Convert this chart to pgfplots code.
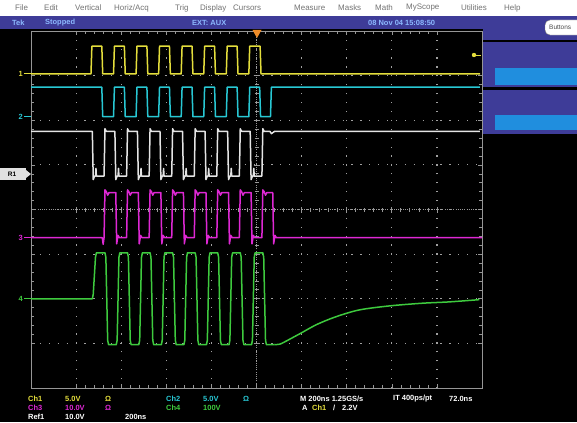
\documentclass[border=0pt]{standalone}
\usepackage{pgfplots}
\pgfplotsset{compat=1.18}
\usepackage{fontspec}
\setmainfont{Liberation Sans}
\definecolor{scYellow}{RGB}{228,222,60}
\definecolor{scCyan}{RGB}{40,200,212}
\definecolor{scWhite}{RGB}{228,228,228}
\definecolor{scMag}{RGB}{222,40,212}
\definecolor{scGreen}{RGB}{62,202,62}
\definecolor{barBlue}{RGB}{62,60,152}
\definecolor{panelBlue}{RGB}{32,142,222}
\definecolor{gridGray}{RGB}{150,150,150}
\definecolor{menuText}{RGB}{115,115,115}
\definecolor{statusText}{RGB}{140,185,255}
\definecolor{trigOrange}{RGB}{240,140,40}
\newcommand{\tf}{\fontsize{7.5}{8}\selectfont}
\newcommand{\mf}{\fontsize{8}{9}\selectfont}
\begin{document}
\begin{tikzpicture}[x=1bp,y=1bp]
% background
\fill[black] (0,0) rectangle (577,422);
\fill[white] (0,406) rectangle (577,422);
\fill[barBlue] (0,393) rectangle (577,406);
\fill[barBlue] (483,288) rectangle (577,406);
\fill[black] (483,380) rectangle (577,382);
\fill[black] (483,332) rectangle (577,335);
\fill[panelBlue] (495,337) rectangle (577,354);
\fill[panelBlue] (495,292) rectangle (577,307);
\coordinate (A) at (31,34);
% menu
\begin{scope}[every node/.style={anchor=west, text=menuText, font=\mf, inner sep=0pt}]
\node at (15,414) {File};
\node at (44,414) {Edit};
\node at (75,414) {Vertical};
\node at (114,414) {Horiz/Acq};
\node at (175,414) {Trig};
\node at (200,414) {Display};
\node at (233,414) {Cursors};
\node at (294,414) {Measure};
\node at (338,414) {Masks};
\node at (375,414) {Math};
\node at (406,414) {MyScope};
\node at (461,414) {Utilities};
\node at (504,414) {Help};
\end{scope}
% status bar
\begin{scope}[every node/.style={anchor=west, text=statusText, font=\tf\bfseries, inner sep=0pt}]
\node at (12,399.5) {Tek};
\node at (45,399.5) {Stopped};
\node at (192,399.5) {EXT: AUX};
\node at (368,399.5) {08 Nov 04 15:08:50};
\end{scope}
\draw[fill=white, draw=gray, rounded corners=5bp] (545,387) rectangle (585,402);
\node[anchor=west, font=\fontsize{6.5}{7}\selectfont, text=black!70, inner sep=0pt] at (549,394.5) {Buttons};

% center lines overlay
\begin{axis}[at={(A)}, anchor=south west, scale only axis, width=451bp, height=357bp,
  xmin=-5, xmax=5, ymin=-4, ymax=4, axis lines=middle,
  axis line style={-, gridGray, line width=0.6bp, dash pattern=on 1bp off 1.2bp},
  xtick={-4,...,4}, ytick={-3,...,3}, minor tick num=4,
  xticklabels={}, yticklabels={},
  tick align=center, major tick length=6bp, minor tick length=4bp,
  tick style={gridGray, line width=0.7bp}]
\end{axis}

% main axis with traces
\begin{axis}[at={(A)}, anchor=south west, scale only axis, width=451bp, height=357bp,
  xmin=-5, xmax=5, ymin=-4, ymax=4, clip=false,
  axis line style={gridGray, line width=0.7bp},
  xtick={-4,...,4}, ytick={-3,...,3}, minor tick num=4,
  xticklabels={}, yticklabels={},
  tick align=inside, major tick length=4bp, minor tick length=3bp,
  tick style={gridGray, line width=0.6bp},
  grid=major,
  major grid style={gridGray!90, line width=1.2bp, dash pattern=on 1.2bp off 7.7bp},
  every axis plot/.append style={line width=1.5bp, line join=round}]

% Ch1 yellow
\addplot[scYellow] coordinates {
(-5,3.04)(-3.67,3.04)(-3.65,3.66)(-3.43,3.66)(-3.41,3.04)
(-3.17,3.04)(-3.15,3.66)(-2.93,3.66)(-2.91,3.04)
(-2.67,3.04)(-2.65,3.66)(-2.43,3.66)(-2.41,3.04)
(-2.17,3.04)(-2.15,3.66)(-1.93,3.66)(-1.91,3.04)
(-1.67,3.04)(-1.65,3.66)(-1.43,3.66)(-1.41,3.04)
(-1.17,3.04)(-1.15,3.66)(-0.93,3.66)(-0.91,3.04)
(-0.67,3.04)(-0.65,3.66)(-0.43,3.66)(-0.41,3.04)
(-0.17,3.04)(-0.15,3.66)(0.08,3.66)(0.10,3.04)
(4.96,3.04)};

% Ch2 cyan
\addplot[scCyan] coordinates {
(-5,2.74)(-3.43,2.74)(-3.41,2.08)
(-3.17,2.08)(-3.15,2.74)(-2.93,2.74)(-2.91,2.08)
(-2.67,2.08)(-2.65,2.74)(-2.43,2.74)(-2.41,2.08)
(-2.17,2.08)(-2.15,2.74)(-1.93,2.74)(-1.91,2.08)
(-1.67,2.08)(-1.65,2.74)(-1.43,2.74)(-1.41,2.08)
(-1.17,2.08)(-1.15,2.74)(-0.93,2.74)(-0.91,2.08)
(-0.67,2.08)(-0.65,2.74)(-0.43,2.74)(-0.41,2.08)
(-0.17,2.08)(-0.15,2.74)(0.07,2.74)(0.09,2.08)
(0.31,2.08)(0.33,2.74)(4.95,2.74)};

% Ref1 white
\addplot[scWhite] coordinates {
(-5,1.75)(-3.64,1.75)(-3.62,0.67)(-3.59,0.75)(-3.57,0.75)(-3.56,0.92)(-3.55,0.75)(-3.38,0.75)(-3.36,1.81)(-3.33,1.75)
(-3.14,1.75)(-3.12,0.67)(-3.09,0.75)(-3.07,0.75)(-3.06,0.92)(-3.05,0.75)(-2.88,0.75)(-2.86,1.81)(-2.83,1.75)
(-2.64,1.75)(-2.62,0.67)(-2.59,0.75)(-2.57,0.75)(-2.56,0.92)(-2.55,0.75)(-2.38,0.75)(-2.36,1.81)(-2.33,1.75)
(-2.14,1.75)(-2.12,0.67)(-2.09,0.75)(-2.07,0.75)(-2.06,0.92)(-2.05,0.75)(-1.88,0.75)(-1.86,1.81)(-1.83,1.75)
(-1.64,1.75)(-1.62,0.67)(-1.59,0.75)(-1.57,0.75)(-1.56,0.92)(-1.55,0.75)(-1.38,0.75)(-1.36,1.81)(-1.33,1.75)
(-1.14,1.75)(-1.12,0.67)(-1.09,0.75)(-1.07,0.75)(-1.06,0.92)(-1.05,0.75)(-0.88,0.75)(-0.86,1.81)(-0.83,1.75)
(-0.64,1.75)(-0.62,0.67)(-0.59,0.75)(-0.57,0.75)(-0.56,0.92)(-0.55,0.75)(-0.38,0.75)(-0.36,1.81)(-0.33,1.75)
(-0.14,1.75)(-0.12,0.67)(-0.09,0.75)(-0.07,0.75)(-0.06,0.92)(-0.05,0.75)(0.12,0.75)(0.14,1.81)(0.17,1.75)
(0.30,1.75)(0.33,1.70)(0.40,1.75)(4.95,1.75)};

% Ch3 magenta
\addplot[scMag] coordinates {
(-5,-0.63)(-3.42,-0.63)(-3.40,-0.78)(-3.38,-0.63)
(-3.36,0.44)(-3.33,0.40)(-3.30,0.32)(-3.27,0.38)(-3.12,0.38)(-3.10,-0.77)(-3.07,-0.58)(-3.04,-0.63)
(-2.88,-0.63)(-2.86,0.44)(-2.83,0.40)(-2.80,0.32)(-2.77,0.38)(-2.62,0.38)(-2.60,-0.77)(-2.57,-0.58)(-2.54,-0.63)
(-2.38,-0.63)(-2.36,0.44)(-2.33,0.40)(-2.30,0.32)(-2.27,0.38)(-2.12,0.38)(-2.10,-0.77)(-2.07,-0.58)(-2.04,-0.63)
(-1.88,-0.63)(-1.86,0.44)(-1.83,0.40)(-1.80,0.32)(-1.77,0.38)(-1.62,0.38)(-1.60,-0.77)(-1.57,-0.58)(-1.54,-0.63)
(-1.38,-0.63)(-1.36,0.44)(-1.33,0.40)(-1.30,0.32)(-1.27,0.38)(-1.12,0.38)(-1.10,-0.77)(-1.07,-0.58)(-1.04,-0.63)
(-0.88,-0.63)(-0.86,0.44)(-0.83,0.40)(-0.80,0.32)(-0.77,0.38)(-0.62,0.38)(-0.60,-0.77)(-0.57,-0.58)(-0.54,-0.63)
(-0.38,-0.63)(-0.36,0.44)(-0.33,0.40)(-0.30,0.32)(-0.27,0.38)(-0.12,0.38)(-0.10,-0.77)(-0.07,-0.58)(-0.04,-0.63)
(0.12,-0.63)(0.14,0.44)(0.17,0.40)(0.20,0.32)(0.23,0.38)(0.36,0.38)(0.38,-0.77)(0.41,-0.58)(0.44,-0.63)
(5,-0.63)};

% Ch4 green
\addplot[scGreen] coordinates {
(-5,-2.0)(-3.64,-2.0)(-3.62,-1.9)(-3.57,-1.07)(-3.55,-0.97)
(-3.36,-0.97)(-3.34,-1.07)(-3.30,-2.93)(-3.28,-3.03)(-3.11,-3.03)(-3.09,-2.93)(-3.05,-1.07)
(-3.03,-0.97)(-2.86,-0.97)(-2.84,-1.07)(-2.80,-2.93)(-2.78,-3.03)(-2.61,-3.03)(-2.59,-2.93)(-2.55,-1.07)
(-2.53,-0.97)(-2.36,-0.97)(-2.34,-1.07)(-2.30,-2.93)(-2.28,-3.03)(-2.11,-3.03)(-2.09,-2.93)(-2.05,-1.07)
(-2.03,-0.97)(-1.86,-0.97)(-1.84,-1.07)(-1.80,-2.93)(-1.78,-3.03)(-1.61,-3.03)(-1.59,-2.93)(-1.55,-1.07)
(-1.53,-0.97)(-1.36,-0.97)(-1.34,-1.07)(-1.30,-2.93)(-1.28,-3.03)(-1.11,-3.03)(-1.09,-2.93)(-1.05,-1.07)
(-1.03,-0.97)(-0.86,-0.97)(-0.84,-1.07)(-0.80,-2.93)(-0.78,-3.03)(-0.61,-3.03)(-0.59,-2.93)(-0.55,-1.07)
(-0.53,-0.97)(-0.36,-0.97)(-0.34,-1.07)(-0.30,-2.93)(-0.28,-3.03)(-0.11,-3.03)(-0.09,-2.93)(-0.05,-1.07)
(-0.03,-0.97)(0.14,-0.97)(0.16,-1.07)(0.20,-2.93)(0.22,-3.03)(0.40,-3.03)};
\addplot[scGreen, smooth] coordinates {
(0.40,-3.03)(0.50,-3.02)(0.58,-2.99)(0.95,-2.79)(1.33,-2.58)(1.77,-2.40)(2.28,-2.25)(2.95,-2.16)(3.68,-2.10)(4.28,-2.07)(4.94,-2.02)};

\coordinate (g1) at (axis cs:-5,3.04);
\coordinate (g2) at (axis cs:-5,2.08);
\coordinate (g3) at (axis cs:-5,-0.63);
\coordinate (g4) at (axis cs:-5,-2.0);
\end{axis}

% ground markers
\draw[scYellow, line width=1.2bp] (g1) -- ++(-7,0);
\node[text=scYellow, font=\tf\bfseries, anchor=east, inner sep=0pt] at ([xshift=-8bp]g1) {1};
\draw[scCyan, line width=1.2bp] (g2) -- ++(-7,0);
\node[text=scCyan, font=\tf\bfseries, anchor=east, inner sep=0pt] at ([xshift=-8bp]g2) {2};
\draw[scMag, line width=1.2bp] (g3) -- ++(-7,0);
\node[text=scMag, font=\tf\bfseries, anchor=east, inner sep=0pt] at ([xshift=-8bp]g3) {3};
\draw[scGreen, line width=1.2bp] (g4) -- ++(-7,0);
\node[text=scGreen, font=\tf\bfseries, anchor=east, inner sep=0pt] at ([xshift=-8bp]g4) {4};

% Ref1 marker
\fill[white!88!black] (0,242) rectangle (26,254);
\fill[white!88!black] (26,244) -- (31,248) -- (26,252) -- cycle;
\node[text=black, font=\fontsize{6.5}{7}\selectfont\bfseries, inner sep=0pt] at (12,248) {R1};
% trigger position marker
\fill[trigOrange] (252.5,392) -- (261.5,392) -- (257,384) -- cycle;
% trigger level marker
\fill[scYellow] (474,367) circle (2.2bp);
\draw[scYellow, line width=1bp] (474,367) -- (481,367);

% readouts
\begin{scope}[every node/.style={anchor=west, font=\tf\bfseries, inner sep=0pt}]
\node[text=scYellow] at (28,23) {Ch1};
\node[text=scYellow] at (65,23) {5.0V};
\node[text=scYellow] at (105,23) {Ω};
\node[text=scCyan] at (166,23) {Ch2};
\node[text=scCyan] at (203,23) {5.0V};
\node[text=scCyan] at (243,23) {Ω};
\node[text=white] at (300,23) {M 200ns 1.25GS/s};
\node[text=white] at (393,23) {IT 400ps/pt};
\node[text=white] at (449,23) {72.0ns};
\node[text=scMag] at (28,14) {Ch3};
\node[text=scMag] at (65,14) {10.0V};
\node[text=scMag] at (105,14) {Ω};
\node[text=scGreen] at (166,14) {Ch4};
\node[text=scGreen] at (203,14) {100V};
\node[text=white] at (302,14) {A};
\node[text=scYellow] at (312,14) {Ch1};
\node[text=white] at (333,14) {/};
\node[text=white] at (342,14) {2.2V};
\node[text=white] at (28,5) {Ref1};
\node[text=white] at (65,5) {10.0V};
\node[text=white] at (125,5) {200ns};
\end{scope}
\pgfresetboundingbox
\path (0,0) rectangle (577,422);
\end{tikzpicture}
\end{document}
